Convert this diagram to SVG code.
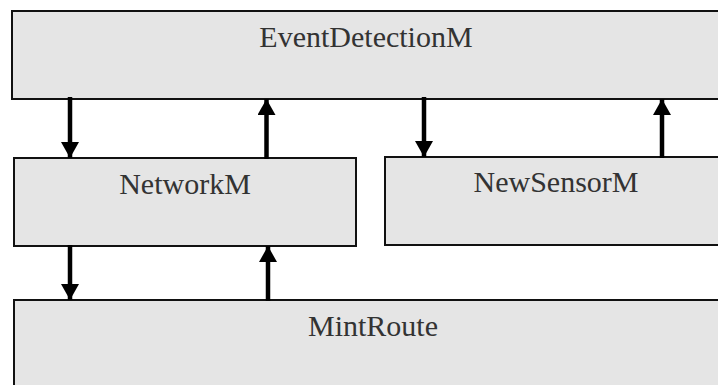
<svg xmlns="http://www.w3.org/2000/svg" width="718" height="385" viewBox="0 0 718 385">
  <style>
    .box { fill: #e5e5e5; stroke: #111; stroke-width: 2; }
    .label { font-family: "Liberation Serif", "Times New Roman", serif; font-size: 30px; fill: #333; text-anchor: middle; }
    .flow { stroke: #000; stroke-width: 4.5; fill: none; marker-end: url(#head); }
  </style>
  <defs>
    <marker id="head" markerUnits="userSpaceOnUse" markerWidth="18" markerHeight="18" refX="16" refY="9" orient="auto">
      <path d="M0,0 L16,9 L0,18 Z" fill="#000"/>
    </marker>
  </defs>
  <rect width="718" height="385" fill="#fff"/>

  <g id="EventDetectionM">
    <rect class="box" x="12" y="11" width="712" height="88"/>
    <text class="label" x="366" y="47">EventDetectionM</text>
  </g>

  <g id="NetworkM">
    <rect class="box" x="14" y="158" width="342" height="88"/>
    <text class="label" x="185" y="194">NetworkM</text>
  </g>

  <g id="NewSensorM">
    <rect class="box" x="385" y="157" width="340" height="88"/>
    <text class="label" x="556" y="192">NewSensorM</text>
  </g>

  <g id="MintRoute">
    <rect class="box" x="14" y="300" width="712" height="92"/>
    <text class="label" x="373" y="336">MintRoute</text>
  </g>

  <g id="connectors">
    <line class="flow" x1="70" y1="97" x2="70" y2="158"/>
    <line class="flow" x1="266.5" y1="159" x2="266.5" y2="99"/>
    <line class="flow" x1="424" y1="97" x2="424" y2="157"/>
    <line class="flow" x1="662" y1="158" x2="662" y2="99"/>
    <line class="flow" x1="70" y1="245" x2="70" y2="300"/>
    <line class="flow" x1="268" y1="301" x2="268" y2="246"/>
  </g>
</svg>
